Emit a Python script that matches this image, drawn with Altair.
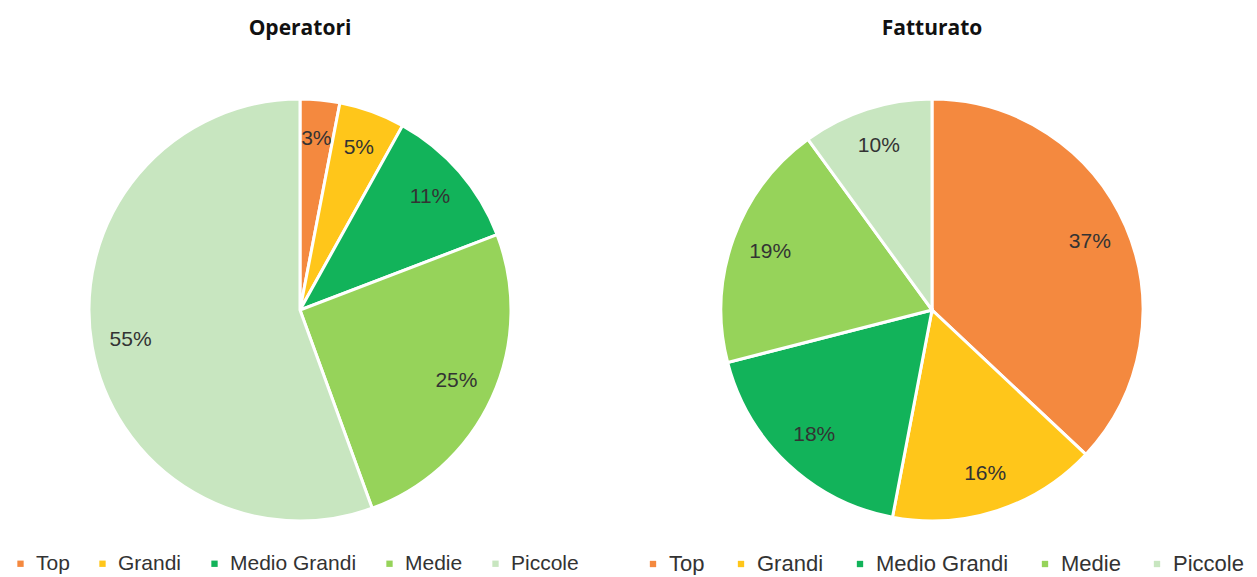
import altair as alt
import pandas as pd

categories = ["Top", "Grandi", "Medio Grandi", "Medie", "Piccole"]
operatori = [3, 5, 11, 25, 55]
fatturato = [37, 16, 18, 19, 10]
colors = ["#F4893F", "#FFC61A", "#12B35A", "#96D35A", "#C8E6C0"]


def pie(values, title, font_size, legend_x, col_pad):
    df = pd.DataFrame({"cat": categories, "val": values, "idx": list(range(len(categories)))})
    base = alt.Chart(df).transform_calculate(label="datum.val + '%'").encode(
        theta=alt.Theta("val:Q", stack=True),
        order=alt.Order("idx:Q"),
    )
    arc = base.mark_arc(radius=211, stroke="white", strokeWidth=3).encode(
        color=alt.Color(
            "cat:N",
            scale=alt.Scale(domain=categories, range=colors),
            legend=alt.Legend(
                title=None,
                orient="none",
                direction="horizontal",
                legendX=legend_x,
                legendY=498,
                symbolType="square",
                symbolSize=40,
                symbolStrokeWidth=0,
                labelFont="Liberation Sans",
                labelFontSize=font_size,
                labelColor="#333333",
                columnPadding=col_pad,
                labelOffset=5,
            ),
        )
    )
    text = base.mark_text(
        radius=172, font="Liberation Sans", fontSize=21, color="#333333"
    ).encode(text="label:N")
    return (arc + text).properties(
        width=580,
        height=510,
        title=alt.TitleParams(
            title, font="Open Sans", fontSize=21, fontWeight="bold", color="#111111", offset=16
        ),
    )


left = pie(operatori, "Operatori", 21, 0, 22)
right = pie(fatturato, "Fatturato", 22, 0, 25)

chart = (
    alt.hconcat(left, right, spacing=52)
    .resolve_scale(color="independent", theta="independent")
    .properties(padding={"top": 10, "left": 2, "right": 0, "bottom": 0})
    .configure_view(stroke=None)
)

chart.save("out.html", embed_options={"renderer": "svg", "actions": False})
